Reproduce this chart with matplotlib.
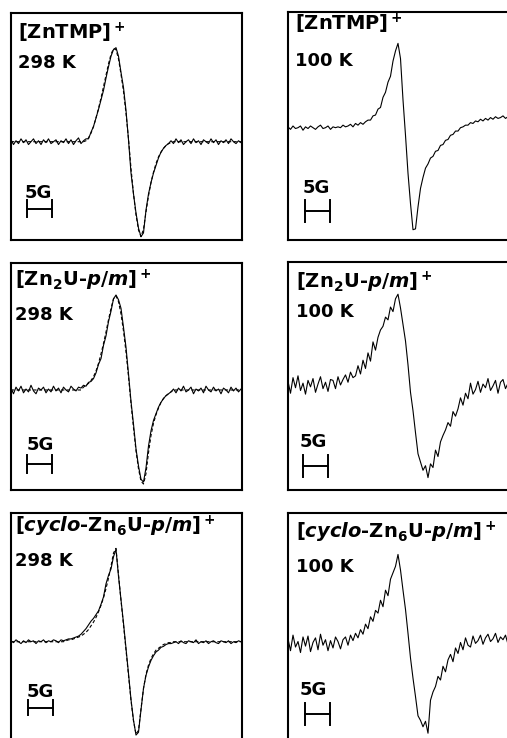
import numpy as np
import matplotlib.pyplot as plt
from matplotlib.transforms import blended_transform_factory

plt.rcParams['mathtext.fontset'] = 'custom'
plt.rcParams['mathtext.rm'] = 'DejaVu Sans:bold'
plt.rcParams['mathtext.bf'] = 'DejaVu Sans:bold'
plt.rcParams['mathtext.it'] = 'DejaVu Sans:italic:bold'
plt.rcParams['mathtext.default'] = 'rm'

# EPR derivative spectra, sampled every 0.5 G (intensity in % of the low-field peak)
FIELD_STEP = 0.5

znTMP_298 = [2, -3, 1, -2, 3, -1, 2, -3, 0, 3, -2, 1, -3, 2, -1, 3, -2, 0, 2, -3, 1, -1, 3, -2, 2, -3, 1, 4, -2, 1, 3,
             3, 10, 16, 25, 34, 44, 54, 67, 79, 90, 97, 99, 90, 73, 57, 33, 2, -33, -55, -75, -91, -100, -96, -72,
             -55, -43, -33, -25, -17, -11, -7, -4, -2,
             1, -2, 3, -1, 2, -3, 0, 2, -2, 3, -1, 1, -3, 2, 0, -2, 3, -1, 2, -3, 1, -1, 2, -2, 3, 0, -2, 1, -1]
znTMP_298_fit = [0] * 30 + [1, 4, 9, 16, 25, 35, 46, 58, 70, 82, 92, 98, 97, 87, 71, 53, 30, 3, -28, -55, -77, -93,
                            -100, -92, -74, -57, -43, -32, -23, -16, -11, -7, -4, -2, -1] + [0] * 28

znTMP_100 = [1, -2, 2, -1, 0, 2, -3, 1, -1, 2, 0, -2, 1, 3, -1, 0, 2, -2, 1, 0,
             1, 0, 3, 1, 2, 4, 1, 5, 3, 6, 4,
             7, 9, 9, 14, 15, 22, 24, 36, 42, 54, 61, 79, 91, 100,
             82, 33, -9, -54, -90, -121,
             -120, -94, -72, -59, -48, -43, -36, -34, -28, -27,
             -21, -20, -15, -14, -9, -8, -4, -4, 0, 1,
             3, 3, 6, 5, 8, 7, 10, 8, 11, 9,
             12, 10, 13, 11, 12, 14, 11, 13, 12, 11, 13, 12]

zn2U_298 = [2, -4, 3, -1, 4, -3, 1, -2, 5, -1, -4, 2, 0, 3, -3, 1, -2, 4, -1, 2, -3, 3, 0, -2, 4, 1, -1, 3, 2,
            5, 4, 8, 9, 12, 18, 27, 33, 47, 57, 72, 83, 96, 100, 95, 86, 66, 45, 17, -12, -36, -62, -80, -94, -97,
            -82, -59, -43, -32, -25, -18, -13, -9, -6, -4, -2,
            1, -3, 2, -1, 4, -2, 0, 3, -4, 1, -1, 2, -3, 4, 0, -2, 3, -1, 1, -4, 2, 0, -3, 3, -1, 2, -2, 1]
zn2U_298_fit = [0] * 29 + [3, 5, 7, 10, 14, 20, 28, 38, 49, 61, 74, 86, 96, 99, 93, 80, 62, 40, 14, -14, -40, -64,
                           -83, -96, -99, -88, -66, -48, -35, -26, -19, -13, -9, -6, -4, -2] + [0] * 28

zn2U_100 = [4, -9, 8, -3, 10, -6, 2, -10, 5, -2, 7, -8, 1, 9, -4, 3, -7, 6,
            5, -4, 9, 0, 6, 11, 3, 14, 8, 10, 21, 12, 27, 18, 35, 26, 47, 38, 52, 60, 64, 74, 71, 85, 80, 94, 99,
            84, 66, 48, 22, -8, -28, -52, -75, -84, -93, -88, -101,
            -86, -90, -71, -78, -62, -55, -49, -41, -45, -29, -34, -26, -14, -22, -9, -15, 2, -10, -5, 4,
            -8, 1, -3, 7, -6, -1, 5, -9, 3, 6, -4, 2, -7, 5, -2, 4]

cyclo_298 = [1, -1, 2, 0, -2, 1, -1, 2, 0, 1, -2, 1, 0, 2, -1, 1, 0, 2, 1, -1, 2, 1,
             2, 3, 3, 4, 5, 6, 8, 11, 14, 18, 22, 25, 29, 33, 40, 48, 62, 71, 78, 91, 99, 70, 45, 20, -7, -34, -62,
             -84, -100, -97, -73, -50, -36, -27, -20, -15, -11, -9, -6, -5, -3, -2, -2, -1,
             0, -2, 1, -1, -2, 1, 0, -1, 2, -2, 0, -1, 1, -2, 0, 1, -1, -2, 1, 0, -1, 1, -2, 0, -1, 1, 0]
cyclo_298_fit = [0] * 22 + [1, 2, 2, 3, 4, 5, 6, 8, 10, 13, 17, 21, 26, 32, 39, 47, 57, 68, 81, 95, 100, 72, 44, 18,
                            -9, -36, -63, -85, -99, -95, -72, -50, -35, -25, -18, -13, -9, -7, -5, -3, -2, -1, -1,
                            0] + [0] * 27

cyclo_100 = [5, -8, 9, -4, 2, -10, 7, -3, 8, -9, 1, 6, -7, 10, -2, 4, -8, 3, -5, 7,
             2, -6, 4, 7, -2, 9, 3, 11, 6, 15, 10, 21, 16, 29, 24, 36, 33, 47, 40, 58, 52, 70, 77, 84, 97,
             80, 58, 37, 11, -16, -38, -58, -79, -84, -91, -85, -98,
             -62, -53, -47, -36, -40, -25, -31, -18, -12, -20, -5, -11, 1, -7, 6, -2, -4, 8, 0, 3,
             9, -1, 6, 10, 2, 5, 11, 1, 7, 4, 9, -1, 8, 5, 2, 9]

labels = [r'[ZnTMP]$^+$', r'[ZnTMP]$^+$',
          r'[Zn$_2$U-$\mathit{p/m}$]$^+$', r'[Zn$_2$U-$\mathit{p/m}$]$^+$',
          r'[$\mathit{cyclo}$-Zn$_6$U-$\mathit{p/m}$]$^+$', r'[$\mathit{cyclo}$-Zn$_6$U-$\mathit{p/m}$]$^+$']
temps = ['298 K', '100 K', '298 K', '100 K', '298 K', '100 K']
spectra = [znTMP_298, znTMP_100, zn2U_298, zn2U_100, cyclo_298, cyclo_100]
fits = [znTMP_298_fit, None, zn2U_298_fit, None, cyclo_298_fit, None]

# layout: panel rect in pixels (left, top, width, height), y limits,
# label x / baselines, 5G text pos, bar start (G), bar y-range (axes fraction)
W, H = 507, 738
layout = [
    dict(rect=(11, 13, 231, 227), ylim=(-103.5, 135.5), lx=0.03, ly=(0.885, 0.758),
         gx=0.061, gy=0.185, bx=3.2, by=(0.101, 0.176)),
    dict(rect=(288, 12, 231, 228), ylim=(-133.2, 137.2), lx=0.03, ly=(0.918, 0.763),
         gx=0.065, gy=0.206, bx=3.4, by=(0.079, 0.175)),
    dict(rect=(11, 263, 231, 227), ylim=(-105.3, 133.7), lx=0.017, ly=(0.899, 0.749),
         gx=0.069, gy=0.176, bx=3.2, by=(0.075, 0.154)),
    dict(rect=(288, 262, 231, 228), ylim=(-114.5, 134.1), lx=0.035, ly=(0.886, 0.759),
         gx=0.052, gy=0.189, bx=3.0, by=(0.057, 0.154)),
    dict(rect=(11, 513, 231, 227), ylim=(-105.3, 137.9), lx=0.017, ly=(0.914, 0.767),
         gx=0.069, gy=0.189, bx=3.4, by=(0.11, 0.176)),
    dict(rect=(288, 513, 231, 227), ylim=(-105.4, 142.2), lx=0.035, ly=(0.89, 0.74),
         gx=0.052, gy=0.198, bx=3.4, by=(0.066, 0.163)),
]

fig = plt.figure(figsize=(W / 100, H / 100), dpi=100)

for spec, fit, lab, temp, lay in zip(spectra, fits, labels, temps, layout):
    l, t, w, h = lay['rect']
    ax = fig.add_axes([l / W, 1 - (t + h) / H, w / W, h / H])
    x = np.arange(len(spec)) * FIELD_STEP
    ax.plot(x, spec, color='black', lw=0.8)
    if fit is not None:
        xf = np.arange(len(fit)) * FIELD_STEP
        ax.plot(xf, fit, color='black', lw=0.8, ls=(0, (3, 2)))
    ax.set_xlim(0, w / 5)
    ax.set_ylim(*lay['ylim'])
    ax.set_xticks([])
    ax.set_yticks([])
    for s in ax.spines.values():
        s.set_linewidth(1.5)

    ax.text(lay['lx'], lay['ly'][0], lab, transform=ax.transAxes, fontsize=14,
            fontweight='bold', family='DejaVu Sans', va='baseline')
    ax.text(lay['lx'], lay['ly'][1], temp, transform=ax.transAxes, fontsize=13,
            fontweight='bold', family='DejaVu Sans', va='baseline')
    ax.text(lay['gx'], lay['gy'], '5G', transform=ax.transAxes, fontsize=13,
            fontweight='bold', family='DejaVu Sans', va='baseline')

    # 5 G scale bar
    tr = blended_transform_factory(ax.transData, ax.transAxes)
    b0, b1 = lay['by']
    bm = (b0 + b1) / 2
    x0 = lay['bx']
    ax.plot([x0, x0 + 5], [bm, bm], color='black', lw=1.4, transform=tr)
    ax.plot([x0, x0], [b0, b1], color='black', lw=1.4, transform=tr)
    ax.plot([x0 + 5, x0 + 5], [b0, b1], color='black', lw=1.4, transform=tr)

fig.savefig('out.png', dpi=100)
